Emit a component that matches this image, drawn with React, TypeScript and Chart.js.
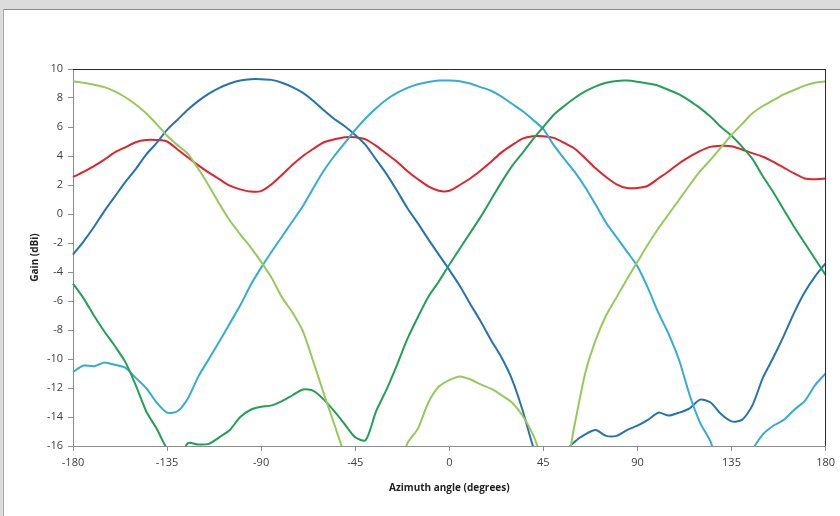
import { useEffect, useRef } from "react";
import { Chart, registerables } from "chart.js";

Chart.register(...registerables);

const angles = [
  -180, -175, -170, -165, -160, -155, -150, -145, -140, -135,
  -130, -125, -120, -115, -110, -105, -100, -95, -90, -85,
  -80, -75, -70, -65, -60, -55, -50, -45, -40, -35,
  -30, -25, -20, -15, -10, -5, 0, 5, 10, 15,
  20, 25, 30, 35, 40, 45, 50, 55, 60, 65,
  70, 75, 80, 85, 90, 95, 100, 105, 110, 115,
  120, 125, 130, 135, 140, 145, 150, 155, 160, 165,
  170, 175, 180,
];

const xTicks = [-180, -135, -90, -45, 0, 45, 90, 135, 180];
const yTicks = [-16, -14, -12, -10, -8, -6, -4, -2, 0, 2, 4, 6, 8, 10];

const beamDarkBlue = [
  -2.8, -1.9, -0.9, 0.2, 1.2, 2.2, 3.1, 4.1, 4.9, 5.8,
  6.5, 7.2, 7.8, 8.3, 8.7, 9.0, 9.2, 9.3, 9.3, 9.25,
  9.05, 8.75, 8.35, 7.8, 7.15, 6.55, 6.05, 5.45, 4.75, 3.75,
  2.75, 1.6, 0.4, -0.65, -1.75, -2.8, -3.85, -4.95, -6.2, -7.4,
  -8.7, -9.9, -11.4, -13.5, -16.0, -18, -18, -16.5, -15.7, -15.2,
  -14.9, -15.3, -15.3, -14.9, -14.6, -14.2, -13.7, -13.9, -13.7, -13.4,
  -12.8, -13.0, -13.8, -14.3, -14.2, -13.2, -11.3, -9.9, -8.4, -6.8,
  -5.4, -4.3, -3.4,
];

const beamCyan = [
  -10.9, -10.45, -10.5, -10.25, -10.4, -10.6, -11.3, -12.0, -13.0, -13.7,
  -13.6, -12.7, -11.2, -10.0, -8.8, -7.55, -6.3, -4.9, -3.7, -2.6,
  -1.55, -0.5, 0.55, 1.8, 3.0, 4.0, 4.9, 5.8, 6.6, 7.3,
  7.9, 8.35, 8.7, 8.95, 9.1, 9.2, 9.2, 9.16, 9.0, 8.75,
  8.5, 8.1, 7.6, 7.1, 6.5, 5.85, 4.75, 3.8, 2.9, 1.85,
  0.65, -0.6, -1.6, -2.6, -3.6, -5.1, -6.8, -8.3, -10.1, -12.5,
  -14.4, -15.7, -18, -18, -18, -16.3, -15.2, -14.6, -14.2, -13.5,
  -12.9, -11.8, -11.0,
];

const beamRed = [
  2.55, 2.9, 3.3, 3.75, 4.25, 4.6, 4.95, 5.1, 5.1, 5.0,
  4.45, 3.9, 3.35, 2.85, 2.4, 1.95, 1.7, 1.55, 1.58, 2.05,
  2.7, 3.4, 4.0, 4.5, 4.95, 5.15, 5.3, 5.3, 5.15, 4.7,
  4.15, 3.6, 2.95, 2.4, 1.9, 1.6, 1.6, 2.0, 2.45, 3.0,
  3.6, 4.25, 4.75, 5.2, 5.37, 5.37, 5.25, 4.9, 4.5, 3.85,
  3.15, 2.55, 2.05, 1.8, 1.8, 1.95, 2.45, 2.95, 3.5, 3.95,
  4.35, 4.63, 4.7, 4.68, 4.45, 4.2, 3.95, 3.6, 3.2, 2.8,
  2.45, 2.4, 2.45,
];

const beamDarkGreen = [
  -4.8, -5.8, -7.0, -8.1, -9.1, -10.2, -11.8, -13.6, -14.8, -16.2,
  -17, -15.8, -15.9, -15.85, -15.4, -14.9, -14.0, -13.5, -13.3, -13.2,
  -12.9, -12.5, -12.1, -12.2, -12.8, -13.6, -14.5, -15.4, -15.6, -13.6,
  -12.1, -10.4, -8.6, -7.1, -5.7, -4.65, -3.5, -2.4, -1.3, -0.2,
  1.0, 2.2, 3.3, 4.2, 5.15, 6.0, 6.85, 7.45, 8.0, 8.45,
  8.8, 9.05, 9.18, 9.2, 9.12, 9.0, 8.85, 8.55, 8.25, 7.8,
  7.3, 6.7, 6.0, 5.4, 4.65, 3.8, 2.6, 1.5, 0.3, -0.9,
  -2.0, -3.1, -4.2,
];

const beamLightGreen = [
  9.15, 9.05, 8.92, 8.75, 8.45, 8.05, 7.55, 6.95, 6.2, 5.4,
  4.75, 4.15, 3.1, 1.95, 0.7, -0.45, -1.4, -2.3, -3.3, -4.4,
  -5.75, -6.8, -8.1, -10.2, -12.4, -14.5, -16.6, -18, -18, -18,
  -18, -18, -15.8, -14.8, -13.0, -11.9, -11.45, -11.2, -11.4, -11.75,
  -12.05, -12.5, -13.0, -13.9, -15.2, -17, -18, -18, -14.5, -11.0,
  -8.7, -7.0, -5.75, -4.5, -3.3, -2.1, -1.0, 0.0, 1.0, 2.0,
  2.95, 3.75, 4.6, 5.45, 6.2, 6.95, 7.45, 7.85, 8.25, 8.55,
  8.85, 9.05, 9.15,
];

const seriesList = [
  { name: "Beam 1", values: beamLightGreen, color: "#97c95a" },
  { name: "Beam 2", values: beamDarkGreen, color: "#22a055" },
  { name: "Beam 3", values: beamCyan, color: "#33acd6" },
  { name: "Beam 4", values: beamDarkBlue, color: "#2673b0" },
  { name: "Beam 5", values: beamRed, color: "#e0242b" },
];

const W = 840;
const H = 516;

export default function App() {
  const ref = useRef<HTMLCanvasElement>(null);

  useEffect(() => {
    if (!ref.current) return;

    const framePlugin = {
      id: "frame",
      beforeDraw(chart: any) {
        const c = chart.ctx;
        c.save();
        c.fillStyle = "#ffffff";
        c.fillRect(0, 0, W, H);
        c.fillStyle = "#dcdcdc";
        c.fillRect(0, 0, W, 9);
        c.fillRect(0, 0, 3, H);
        c.fillStyle = "#8c8c8c";
        c.fillRect(3, 9, W - 3, 1);
        c.fillStyle = "#a8a8a8";
        c.fillRect(3, 9, 1, H - 9);
        c.restore();
      },
      afterDraw(chart: any) {
        const { left, right, top } = chart.chartArea;
        const c = chart.ctx;
        c.save();
        c.strokeStyle = "#2a2a2a";
        c.lineWidth = 1;
        c.beginPath();
        c.moveTo(left, Math.round(top) + 0.5);
        c.lineTo(right, Math.round(top) + 0.5);
        c.moveTo(Math.round(right) - 0.5, top);
        c.lineTo(Math.round(right) - 0.5, chart.chartArea.bottom);
        c.stroke();
        c.restore();
      },
    };

    const tickFont = { family: "'Open Sans', sans-serif", size: 11 };
    const titleFont = { family: "'Open Sans', sans-serif", size: 10, weight: "bold" as const };

    const chart = new Chart(ref.current, {
      type: "line",
      data: {
        datasets: seriesList.map((s) => ({
          label: s.name,
          data: angles.map((a, i) => ({ x: a, y: s.values[i] })),
          borderColor: s.color,
          backgroundColor: s.color,
          borderWidth: 2,
          pointRadius: 0,
          tension: 0.25,
          fill: false,
          clip: { left: 2, right: 2, top: 2, bottom: 0 } as any,
        })),
      },
      options: {
        animation: false,
        responsive: false,
        events: [],
        layout: { padding: { top: 69, right: 14, left: 0, bottom: 0 } },
        plugins: {
          legend: { display: false },
          tooltip: { enabled: false },
          title: { display: false },
        },
        scales: {
          x: {
            type: "linear",
            min: -180,
            max: 180,
            afterBuildTicks: (scale: any) => {
              scale.ticks = xTicks.map((v) => ({ value: v }));
            },
            afterFit: (scale: any) => {
              scale.height = 70;
            },
            ticks: {
              font: tickFont,
              color: "#404040",
              padding: 5,
              maxRotation: 0,
              autoSkip: false,
            },
            grid: {
              drawOnChartArea: false,
              drawTicks: true,
              tickLength: 5,
              color: "#8c8c8c",
            },
            border: { color: "#8c8c8c", width: 1 },
            title: {
              display: true,
              text: "Azimuth angle (degrees)",
              font: titleFont,
              color: "#222222",
              padding: { top: 0, bottom: 22 },
            },
          },
          y: {
            type: "linear",
            min: -16,
            max: 10,
            afterBuildTicks: (scale: any) => {
              scale.ticks = yTicks.map((v) => ({ value: v }));
            },
            afterFit: (scale: any) => {
              scale.width = 73;
            },
            ticks: {
              font: tickFont,
              color: "#404040",
              padding: 5,
              autoSkip: false,
            },
            grid: {
              drawOnChartArea: false,
              drawTicks: true,
              tickLength: 5,
              color: "#8c8c8c",
            },
            border: { color: "#8c8c8c", width: 1 },
            title: {
              display: true,
              text: "Gain (dBi)",
              font: titleFont,
              color: "#222222",
              padding: { top: 29, bottom: 0 },
            },
          },
        },
      },
      plugins: [framePlugin],
    });

    return () => chart.destroy();
  }, []);

  return (
    <div style={{ position: "fixed", left: 0, top: 0, width: W, height: H }}>
      <canvas ref={ref} width={W} height={H} style={{ display: "block" }} />
    </div>
  );
}
